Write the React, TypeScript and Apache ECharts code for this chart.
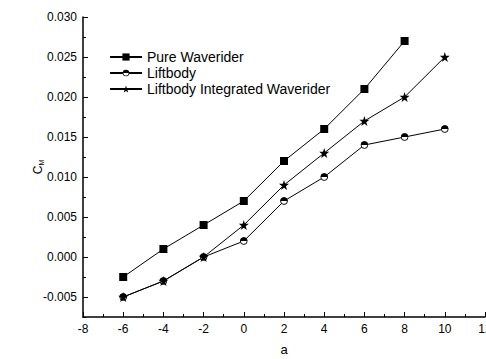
import React, { useEffect, useRef } from "react";
import * as echarts from "echarts";

const alpha = [-6, -4, -2, 0, 2, 4, 6, 8, 10];
const pureWaverider = [-0.0025, 0.001, 0.004, 0.007, 0.012, 0.016, 0.021, 0.027];
const liftbody = [-0.005, -0.003, 0.0, 0.002, 0.007, 0.01, 0.014, 0.015, 0.016];
const integrated = [-0.005, -0.003, 0.0, 0.004, 0.009, 0.013, 0.017, 0.02, 0.025];
const seriesNames = ["Pure Waverider", "Liftbody", "Liftbody Integrated Waverider"];
const yMajorTicks = [-0.005, 0, 0.005, 0.01, 0.015, 0.02, 0.025, 0.03];
const yMinorTicks = [-0.0075, -0.0025, 0.0025, 0.0075, 0.0125, 0.0175, 0.0225, 0.0275];

const starPath =
  "path://M50 0 L61.23 34.55 L97.55 34.55 L68.17 55.9 L79.39 90.45 L50 69.1 L20.61 90.45 L31.83 55.9 L2.45 34.55 L38.77 34.55 Z";
const halfCircleSvg =
  "<svg xmlns='http://www.w3.org/2000/svg' width='20' height='20' viewBox='0 0 20 20'>" +
  "<circle cx='10' cy='10' r='8.6' fill='white' stroke='black' stroke-width='2.4'/>" +
  "<path d='M1.4 10 A8.6 8.6 0 0 1 18.6 10 Z' fill='black'/></svg>";
const halfCircle = "image://data:image/svg+xml;charset=utf-8," + encodeURIComponent(halfCircleSvg);

const FONT = "'Liberation Sans', Arial, sans-serif";

export default function App() {
  const ref = useRef<HTMLDivElement>(null);
  useEffect(() => {
    if (!ref.current) return;
    const chart = echarts.init(ref.current, undefined, { renderer: "svg" });
    const pair = (ys: number[]) => ys.map((y, i) => [alpha[i], y]);
    chart.setOption({
      animation: false,
      backgroundColor: "#ffffff",
      textStyle: { fontFamily: FONT, color: "#000" },
      grid: { left: 83, right: 1, top: 17, bottom: 42, outerBoundsMode: "none", containLabel: false },
      legend: {
        orient: "vertical",
        left: 104,
        top: 45,
        itemWidth: 32,
        itemHeight: 9,
        itemGap: 2,
        data: seriesNames,
        textStyle: { fontSize: 14, lineHeight: 14, color: "#000", fontFamily: FONT },
      },
      xAxis: {
        type: "value",
        min: -8,
        max: 12,
        interval: 2,
        name: "a",
        nameLocation: "middle",
        nameGap: 26,
        nameTextStyle: { fontSize: 13, color: "#000", fontFamily: FONT },
        axisLine: { show: true, onZero: false, lineStyle: { color: "#000", width: 1.5 } },
        axisTick: { show: true, inside: true, length: 5, lineStyle: { color: "#000", width: 1 } },
        minorTick: { show: true, splitNumber: 2, length: 3, lineStyle: { color: "#000", width: 1 } },
        axisLabel: { fontSize: 12, color: "#000", margin: 6, fontFamily: FONT },
        splitLine: { show: false },
        minorSplitLine: { show: false },
      },
      yAxis: [
        {
          type: "value",
          min: -0.0075,
          max: 0.03,
          name: "{c|C}{s|M}",
          nameLocation: "middle",
          nameGap: 38,
          nameMoveOverlap: false,
          nameRotate: 90,
          nameTextStyle: {
            color: "#000",
            fontFamily: FONT,
            rich: {
              c: { fontSize: 12, lineHeight: 14, fontFamily: FONT, color: "#000" },
              s: { fontSize: 7, lineHeight: 14, fontFamily: FONT, color: "#000", verticalAlign: "bottom", padding: [5, 0, 0, 0] },
            },
          },
          axisLine: { show: true, onZero: false, lineStyle: { color: "#000", width: 1.5 } },
          axisTick: { show: true, inside: true, length: 5, customValues: yMajorTicks, lineStyle: { color: "#000", width: 1 } },
          axisLabel: {
            fontSize: 12,
            color: "#000",
            margin: 6,
            fontFamily: FONT,
            customValues: yMajorTicks,
            formatter: (v: number) => v.toFixed(3),
          },
          splitLine: { show: false },
        },
        {
          type: "value",
          min: -0.0075,
          max: 0.03,
          position: "left",
          axisLine: { show: false, onZero: false },
          axisTick: { show: true, inside: true, length: 3, customValues: yMinorTicks, lineStyle: { color: "#000", width: 1 } },
          axisLabel: { show: false },
          splitLine: { show: false },
        },
      ],
      series: [
        {
          name: seriesNames[0],
          type: "line",
          data: pair(pureWaverider),
          symbol: "rect",
          symbolSize: 8,
          lineStyle: { color: "#000", width: 1 },
          itemStyle: { color: "#000" },
        },
        {
          name: seriesNames[1],
          type: "line",
          data: pair(liftbody),
          symbol: halfCircle,
          symbolSize: 8,
          lineStyle: { color: "#000", width: 1 },
          itemStyle: { color: "#000" },
        },
        {
          name: seriesNames[2],
          type: "line",
          data: pair(integrated),
          symbol: starPath,
          symbolSize: 10,
          lineStyle: { color: "#000", width: 1 },
          itemStyle: { color: "#000" },
        },
      ],
    });
    return () => chart.dispose();
  }, []);
  return <div ref={ref} style={{ position: "fixed", left: 0, top: 0, width: 486, height: 359 }} />;
}
